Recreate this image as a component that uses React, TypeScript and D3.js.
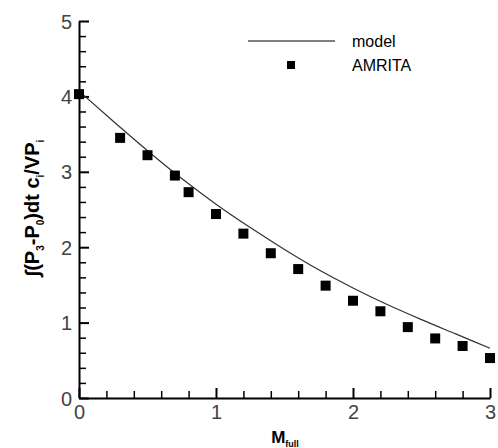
import React, { useEffect, useRef } from 'react';
import * as d3 from 'd3';

// AMRITA points
const amritaX = [0, 0.3, 0.5, 0.7, 0.8, 1.0, 1.2, 1.4, 1.6, 1.8, 2.0, 2.2, 2.4, 2.6, 2.8, 3.0];
const amritaY = [4.03, 3.45, 3.22, 2.95, 2.73, 2.44, 2.18, 1.92, 1.71, 1.49, 1.29, 1.15, 0.94, 0.79, 0.69, 0.53];

// model curve
const modelX = [0, 0.25, 0.5, 0.75, 1, 1.25, 1.5, 1.75, 2, 2.25, 2.5, 2.75, 3];
const modelY = [4.07, 3.67, 3.28, 2.91, 2.57, 2.26, 1.97, 1.70, 1.46, 1.24, 1.04, 0.85, 0.66];

const xTicks = [0, 1, 2, 3];
const yTicks = [0, 1, 2, 3, 4, 5];

const App = () => {
  const svgRef = useRef<SVGSVGElement>(null);

  useEffect(() => {
    const width = 498;
    const height = 448;
    const margin = { top: 21, right: 8, bottom: 50, left: 79 };

    d3.select(svgRef.current).selectAll('*').remove();

    const svg = d3.select(svgRef.current)
      .attr('width', width)
      .attr('height', height);

    const x = d3.scaleLinear().domain([0, 3]).range([margin.left, 490]);
    const y = d3.scaleLinear().domain([0, 5]).range([height - margin.bottom, margin.top]);

    const tickFont = "'Liberation Sans Narrow', 'Liberation Sans', sans-serif";

    // minor ticks
    const xMinor = d3.range(0, 3.001, 0.2).filter(v => Math.abs(v - Math.round(v)) > 0.01);
    const yMinor = d3.range(0, 5.001, 0.2).filter(v => Math.abs(v - Math.round(v)) > 0.01);

    const xAxisMinor = svg.append('g')
      .attr('transform', `translate(0,${y(0)})`)
      .call(d3.axisBottom(x).tickValues(xMinor).tickSize(-7).tickFormat(() => ''));
    xAxisMinor.select('.domain').remove();
    xAxisMinor.selectAll('line').attr('stroke', '#000').attr('stroke-width', 1.5);

    const yAxisMinor = svg.append('g')
      .attr('transform', `translate(${x(0)},0)`)
      .call(d3.axisLeft(y).tickValues(yMinor).tickSize(-7).tickFormat(() => ''));
    yAxisMinor.select('.domain').remove();
    yAxisMinor.selectAll('line').attr('stroke', '#000').attr('stroke-width', 1.5);

    // major axes
    const xAxis = svg.append('g')
      .attr('transform', `translate(0,${y(0)})`)
      .call(d3.axisBottom(x).tickValues(xTicks).tickSizeInner(-10).tickSizeOuter(0).tickPadding(5).tickFormat(d3.format('d')));
    xAxis.select('.domain').attr('stroke', '#000').attr('stroke-width', 2);
    xAxis.selectAll('line').attr('stroke', '#000').attr('stroke-width', 2);
    xAxis.selectAll('text')
      .attr('y', 21)
      .attr('dy', 0)
      .attr('font-family', tickFont)
      .attr('font-size', 20)
      .attr('fill', '#444');

    const yAxis = svg.append('g')
      .attr('transform', `translate(${x(0)},0)`)
      .call(d3.axisLeft(y).tickValues(yTicks).tickSizeInner(-10).tickSizeOuter(0).tickPadding(7).tickFormat(d3.format('d')));
    yAxis.select('.domain').attr('stroke', '#000').attr('stroke-width', 2);
    yAxis.selectAll('line').attr('stroke', '#000').attr('stroke-width', 2);
    yAxis.selectAll('text')
      .attr('x', -7)
      .attr('dy', '0.35em')
      .attr('font-family', tickFont)
      .attr('font-size', 20)
      .attr('fill', '#444');

    // model line
    const line = d3.line<number>()
      .x((d, i) => x(modelX[i]))
      .y(d => y(d))
      .curve(d3.curveMonotoneX);

    svg.append('path')
      .datum(modelY)
      .attr('d', line)
      .attr('fill', 'none')
      .attr('stroke', '#333')
      .attr('stroke-width', 1.2);

    // AMRITA squares
    const sq = 10;
    svg.selectAll('.pt')
      .data(amritaY)
      .enter()
      .append('rect')
      .attr('class', 'pt')
      .attr('x', (d, i) => x(amritaX[i]) - sq / 2)
      .attr('y', d => y(d) - sq / 2)
      .attr('width', sq)
      .attr('height', sq)
      .attr('fill', '#000');

    // legend
    const legend = svg.append('g').attr('font-family', "'Liberation Sans', Arial, sans-serif").attr('font-size', 16);
    legend.append('line')
      .attr('x1', 248).attr('x2', 335)
      .attr('y1', 41).attr('y2', 41)
      .attr('stroke', '#000').attr('stroke-width', 1.2);
    legend.append('text').attr('x', 352).attr('y', 47).text('model');
    legend.append('rect').attr('x', 287).attr('y', 61).attr('width', 8).attr('height', 8).attr('fill', '#000');
    legend.append('text').attr('x', 352).attr('y', 71).text('AMRITA');

    // x label
    const xl = svg.append('text')
      .attr('x', 285)
      .attr('y', 443)
      .attr('text-anchor', 'middle')
      .attr('font-family', "'Liberation Sans', Arial, sans-serif")
      .attr('font-weight', 'bold')
      .attr('font-size', 17);
    xl.append('tspan').text('M');
    xl.append('tspan').attr('font-size', 9).attr('dy', 4).text('full');

    // y label
    const yl = svg.append('text')
      .attr('transform', 'translate(39,208) rotate(-90)')
      .attr('text-anchor', 'middle')
      .attr('font-family', "'Liberation Sans', Arial, sans-serif")
      .attr('font-weight', 'bold')
      .attr('font-size', 20);
    const parts: [string, boolean][] = [
      ['\u222B(P', false], ['3', true], ['-P', false], ['0', true],
      [')dt c', false], ['i', true], ['/VP', false], ['i', true]
    ];
    let sub = false;
    parts.forEach(([t, s]) => {
      const ts = yl.append('tspan').text(t);
      if (s) ts.attr('font-size', 10);
      if (s !== sub) ts.attr('dy', s ? 5 : -5);
      sub = s;
    });
  }, []);

  return (
    <svg ref={svgRef} style={{ position: 'absolute', left: 0, top: 0, background: '#fff' }}></svg>
  );
};

export default App;
